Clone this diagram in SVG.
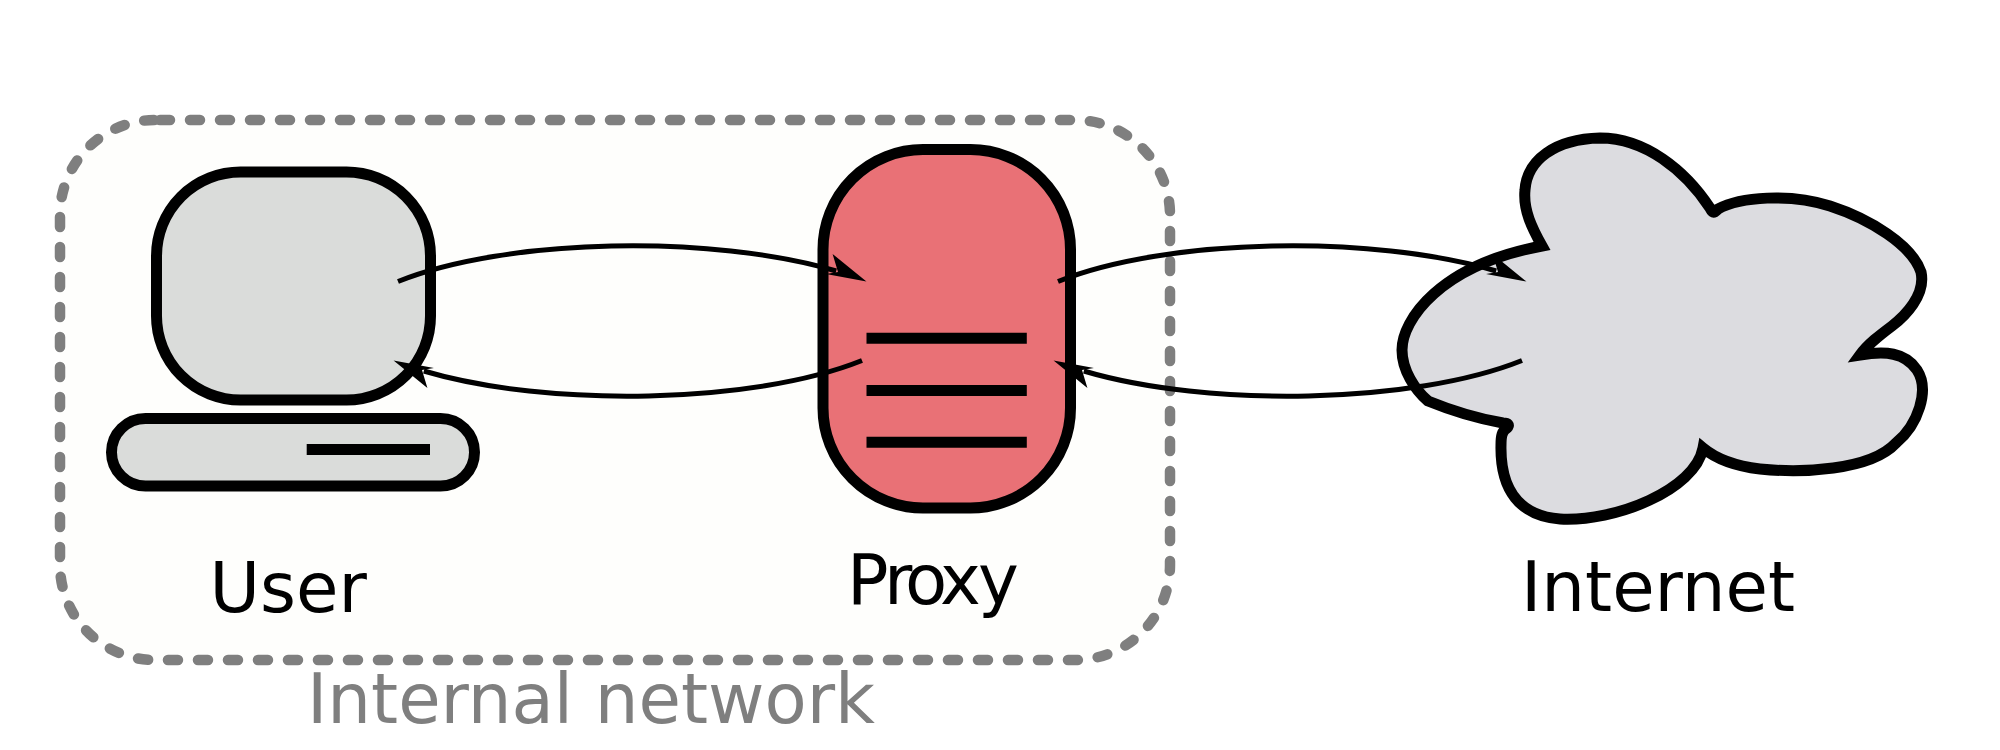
<svg xmlns="http://www.w3.org/2000/svg" width="2000" height="750" viewBox="0 0 2000 750">
<style>
.o{stroke:#000;stroke-width:11;}
.bar{stroke:#000;stroke-width:11;fill:none;}
.c{fill:none;stroke:#000;stroke-width:5;marker-end:url(#head);}
text{font-family:"DejaVu Sans",sans-serif;font-size:69px;fill:#000;}
</style>
<defs>
<marker id="head" markerUnits="userSpaceOnUse" viewBox="-14 -20 50 40" refX="0" refY="0" markerWidth="50" markerHeight="40" orient="auto">
<polygon points="32,1.5 -8.3,-15.3 2,0.4 -8.9,5.8" fill="#000"/>
</marker>
</defs>
<rect width="2000" height="750" fill="#fff"/>
<g id="internal-network">
<path d="M155,120 H1075 A95,95 0 0 1 1170,215 V565 A95,95 0 0 1 1075,660 H155 A95,95 0 0 1 60,565 V215 A95,95 0 0 1 155,120 Z" fill="#fefefc" stroke="#7f7f7f" stroke-width="10.5" stroke-linecap="round" stroke-dasharray="10 20" stroke-dashoffset="25"/>
<text x="307" y="722.6" style="fill:#7f7f7f">Internal network</text>
</g>
<g id="user">
<rect class="o" x="156.5" y="172" width="274" height="228" rx="84" ry="84" fill="#dadcda"/>
<rect class="o" x="111.5" y="418.5" width="363" height="67.5" rx="34" ry="34" fill="#dadcda"/>
<line class="bar" x1="306.7" y1="449.5" x2="430" y2="449.5"/>
<text x="209.5" y="612">User</text>
</g>
<g id="proxy">
<rect class="o" x="823" y="149.5" width="247.5" height="358.5" rx="100" ry="100" fill="#e97176"/>
<line class="bar" x1="866.5" y1="338.3" x2="1026.8" y2="338.3"/>
<line class="bar" x1="866.5" y1="390.5" x2="1026.8" y2="390.5"/>
<line class="bar" x1="866.5" y1="442.3" x2="1026.8" y2="442.3"/>
<text x="847 884 905 940 978" y="603.5">Proxy</text>
</g>
<g id="internet">
<path class="o" fill="#dcdce0" stroke-miterlimit="8" stroke-linejoin="miter" d="M1542,246 C1532,228 1523,210 1525,190 C1527,160 1555,139 1600,138 C1645,138 1685,170 1710,208 C1713,214 1714,213 1718,209 C1740,197 1790,193 1830,206 C1870,219 1912,245 1921,272 C1926,295 1905,316 1892,326 C1880,335 1868,344 1860,355 C1885,351 1905,352 1917,370 C1930,390 1918,425 1896,443 C1870,471 1800,473 1760,469 C1735,466 1715,458 1703,448 C1695,490 1615,522 1560,519 C1520,516 1500,490 1501,445 C1501,436 1502,431 1507,428 C1510,425 1508,423 1503,423 C1480,419 1450,410 1428,401 C1415,390 1402,370 1402,350 C1402,320 1440,265 1542,246 Z"/>
<text x="1521" y="610.7">Internet</text>
</g>
<g id="connectors">
<path class="c" d="M398,281.5 C506.6,237.8 712.5,234.3 836.2,271"/>
<path class="c" d="M862,360.5 C753.4,404.2 547.5,407.7 423.8,371"/>
<path class="c" transform="translate(660,0)" d="M398,281.5 C506.6,237.8 712.5,234.3 836.2,271"/>
<path class="c" transform="translate(660,0)" d="M862,360.5 C753.4,404.2 547.5,407.7 423.8,371"/>
</g>
</svg>
